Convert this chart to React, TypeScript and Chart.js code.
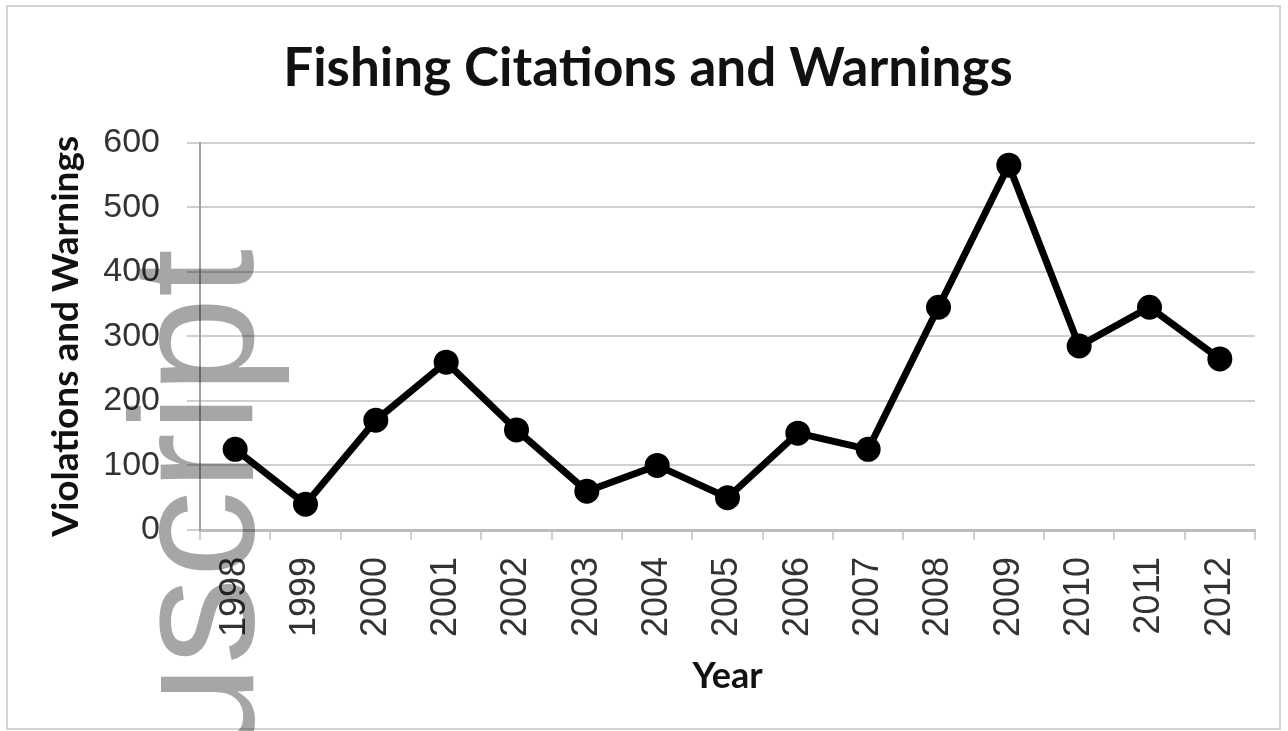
import React, { useEffect, useRef } from "react";
import { Chart, registerables } from "chart.js";

Chart.register(...registerables);

const years = ["1998", "1999", "2000", "2001", "2002", "2003", "2004", "2005", "2006", "2007", "2008", "2009", "2010", "2011", "2012"];
const violationsAndWarnings = [125, 40, 170, 260, 155, 60, 100, 50, 150, 125, 345, 565, 285, 345, 265];
const yTicks = [0, 100, 200, 300, 400, 500, 600];

const chartTitle = "Fishing Citations and Warnings";
const xTitle = "Year";
const yTitle = "Violations and Warnings";
const watermark = "Manuscript";

const frameAndWatermark = {
  id: "frameAndWatermark",
  beforeDraw(chart: any) {
    const { ctx, width, height } = chart;
    ctx.save();
    ctx.fillStyle = "#ffffff";
    ctx.fillRect(0, 0, width, height);
    ctx.strokeStyle = "#d4d4d4";
    ctx.lineWidth = 2;
    ctx.strokeRect(7, 6, 1273, 723);
    ctx.restore();
  },
  afterDraw(chart: any) {
    const { ctx } = chart;
    ctx.save();
    ctx.globalCompositeOperation = "multiply";
    ctx.fillStyle = "#a6a6a6";
    ctx.font = "174px 'Liberation Sans'";
    ctx.translate(253, 249);
    ctx.rotate(-Math.PI / 2);
    ctx.textAlign = "right";
    ctx.textBaseline = "alphabetic";
    ctx.fillText(watermark, 0, 0);
    ctx.restore();
  },
};

export default function App() {
  const ref = useRef<HTMLCanvasElement | null>(null);

  useEffect(() => {
    document.body.style.margin = "0";
    const canvas = ref.current;
    if (!canvas) return;
    const chart = new Chart(canvas, {
      type: "line",
      data: {
        labels: years,
        datasets: [
          {
            label: yTitle,
            data: violationsAndWarnings,
            borderColor: "#000000",
            backgroundColor: "#000000",
            borderWidth: 7,
            pointRadius: 9,
            pointBackgroundColor: "#000000",
            pointBorderColor: "#000000",
            tension: 0,
          },
        ],
      },
      options: {
        animation: false,
        responsive: false,
        maintainAspectRatio: false,
        layout: { padding: { left: 41, right: 33, top: 0, bottom: 0 } },
        plugins: {
          legend: { display: false },
          tooltip: { enabled: false },
          title: {
            display: true,
            text: chartTitle,
            color: "#111111",
            font: { family: "Lato", size: 53, weight: "bold" },
            padding: { top: 37, bottom: 42 },
          },
        },
        scales: {
          x: {
            type: "category",
            offset: true,
            afterFit: (s: any) => {
              s.height = 201;
            },
            grid: {
              display: true,
              drawOnChartArea: false,
              offset: true,
              tickLength: 10,
              color: "#cfcfcf",
              lineWidth: 2,
            },
            border: { display: true, color: "#bdbdbd", width: 3 },
            ticks: {
              minRotation: 90,
              maxRotation: 90,
              autoSkip: false,
              padding: 17,
              color: "#333333",
              font: { family: "Liberation Sans", size: 36 },
            },
            title: {
              display: true,
              text: xTitle,
              color: "#111111",
              font: { family: "Lato", size: 36, weight: "bold" },
              padding: { top: 0, bottom: 33 },
            },
          },
          y: {
            min: 0,
            max: 600,
            afterFit: (s: any) => {
              s.width = 159;
            },
            afterBuildTicks: (s: any) => {
              s.ticks = yTicks.map((v) => ({ value: v }));
            },
            grid: {
              color: "#cfcfcf",
              lineWidth: 2,
              tickLength: 13,
            },
            border: { display: true, color: "#a0a0a0", width: 2 },
            ticks: {
              padding: 27,
              color: "#333333",
              font: { family: "Liberation Sans", size: 34 },
            },
            title: {
              display: true,
              text: yTitle,
              color: "#111111",
              font: { family: "Lato", size: 37, weight: "bold" },
              padding: { top: 3, bottom: 0 },
            },
          },
        },
      },
      plugins: [frameAndWatermark],
    });
    return () => chart.destroy();
  }, []);

  return <canvas ref={ref} width={1288} height={731} style={{ display: "block" }} />;
}
